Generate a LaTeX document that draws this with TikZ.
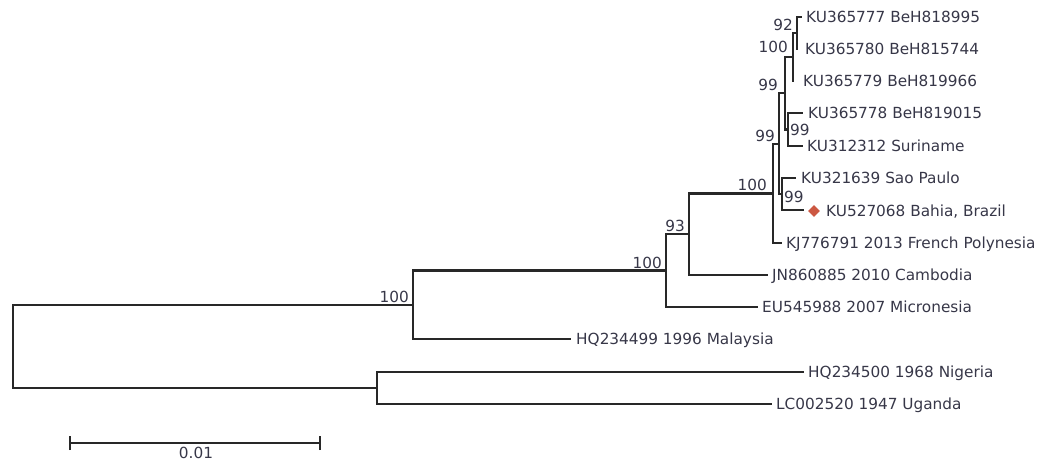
\documentclass[tikz,border=0pt]{standalone}
\usepackage{fontspec}
\setmainfont{DejaVu Sans}
\usetikzlibrary{shapes.geometric}
\definecolor{txt}{RGB}{55,55,72}
\definecolor{ln}{RGB}{40,40,40}
\definecolor{mark}{RGB}{204,88,66}
\begin{document}
\begin{tikzpicture}[x=1pt,y=-1pt,
  br/.style={draw=ln,line width=2.8pt,line cap=rect},
  leaf/.style={anchor=west,inner sep=0pt,text height=10.8pt,text depth=0pt,text=txt,font=\fontsize{15.3}{17}\selectfont},
  boot/.style={anchor=south east,inner xsep=4pt,inner ysep=2.5pt,text depth=0pt,text=txt,font=\fontsize{15.3}{17}\selectfont},
  bootr/.style={anchor=west,inner xsep=2pt,inner ysep=0pt,text height=10.8pt,text depth=0pt,text=txt,font=\fontsize{15.3}{17}\selectfont}]
\useasboundingbox (0,0) rectangle (1039,462);
% internal nodes
\coordinate (n92) at (797,33);
\coordinate (n100a) at (793,57);
\coordinate (n99b) at (788,129.5);
\coordinate (n99a) at (785,93);
\coordinate (n99d) at (782,194);
\coordinate (n99c) at (779,144);
\coordinate (nD) at (773,193.5);
\coordinate (nC) at (689,234);
\coordinate (nB) at (666,270.5);
\coordinate (nA) at (413,305);
\coordinate (nO) at (377,388);
\coordinate (root) at (13,346);
% leaf branch ends
\coordinate (t1) at (801,17);
\coordinate (t2) at (797,49);
\coordinate (t3) at (793,81);
\coordinate (t4) at (802,113);
\coordinate (t5) at (802,146);
\coordinate (t6) at (795,178);
\coordinate (t7) at (803,210);
\coordinate (t8) at (781,243);
\coordinate (t9) at (767,275);
\coordinate (t10) at (757,307);
\coordinate (t11) at (570,339);
\coordinate (t12) at (803,372);
\coordinate (t13) at (771,404);
% leaf labels
\node[leaf] (L1) at (806,17) {KU365777 BeH818995};
\node[leaf] (L2) at (805,49) {KU365780 BeH815744};
\node[leaf] (L3) at (803,81) {KU365779 BeH819966};
\node[leaf] (L4) at (808,113) {KU365778 BeH819015};
\node[leaf] (L5) at (807,146) {KU312312 Suriname};
\node[leaf] (L6) at (801,178) {KU321639 Sao Paulo};
\node[diamond,fill=mark,inner sep=0pt,minimum width=12pt,minimum height=12pt] (dia) at (814,211) {};
\node[leaf] (L7) at (826,211) {KU527068 Bahia, Brazil};
\node[leaf] (L8) at (786,243) {KJ776791 2013 French Polynesia};
\node[leaf] (L9) at (772,275) {JN860885 2010 Cambodia};
\node[leaf] (L10) at (762,307) {EU545988 2007 Micronesia};
\node[leaf] (L11) at (576,339) {HQ234499 1996 Malaysia};
\node[leaf] (L12) at (808,372) {HQ234500 1968 Nigeria};
\node[leaf] (L13) at (776,404) {LC002520 1947 Uganda};
% branches
\draw[br] (t1) -| (n92) |- (t2);
\draw[br] (n92) -| (n100a) |- (t3);
\draw[br] (t4) -| (n99b) |- (t5);
\draw[br] (n100a) -| (n99a) |- (n99b);
\draw[br] (t6) -| (n99d) |- (t7);
\draw[br] (n99a) -| (n99c) |- (n99d);
\draw[br] (n99c) -| (nD) |- (t8);
\draw[br] (nD) -| (nC) |- (t9);
\draw[br] (nC) -| (nB) |- (t10);
\draw[br] (nB) -| (nA) |- (t11);
\draw[br] (t12) -| (nO) |- (t13);
\draw[br] (nA) -| (root) |- (nO);
% bootstrap values
\node[boot] (b92) at (797,33) {92};
\node[boot] (b100a) at (792,55) {100};
\node[boot] (b99a) at (782,93) {99};
\node[bootr] (b99b) at (788,130) {99};
\node[boot] (b99c) at (779,144) {99};
\node[bootr] (b99d) at (782,197) {99};
\node[boot] (bD) at (771,193) {100};
\node[boot] (bC) at (689,234) {93};
\node[boot] (bB) at (666,271) {100};
\node[boot] (bA) at (413,305) {100};
% scale bar
\coordinate (s1) at (70,443);
\coordinate (s2) at (320,443);
\draw[br,line cap=butt] (s1) -- (s2);
\draw[br,line cap=butt] ([yshift=-7pt]s1) -- ([yshift=7pt]s1);
\draw[br,line cap=butt] ([yshift=-7pt]s2) -- ([yshift=7pt]s2);
\node[text=txt,font=\fontsize{15.3}{17}\selectfont,inner sep=0pt] (sl) at (196,453) {0.01};
\end{tikzpicture}
\end{document}
